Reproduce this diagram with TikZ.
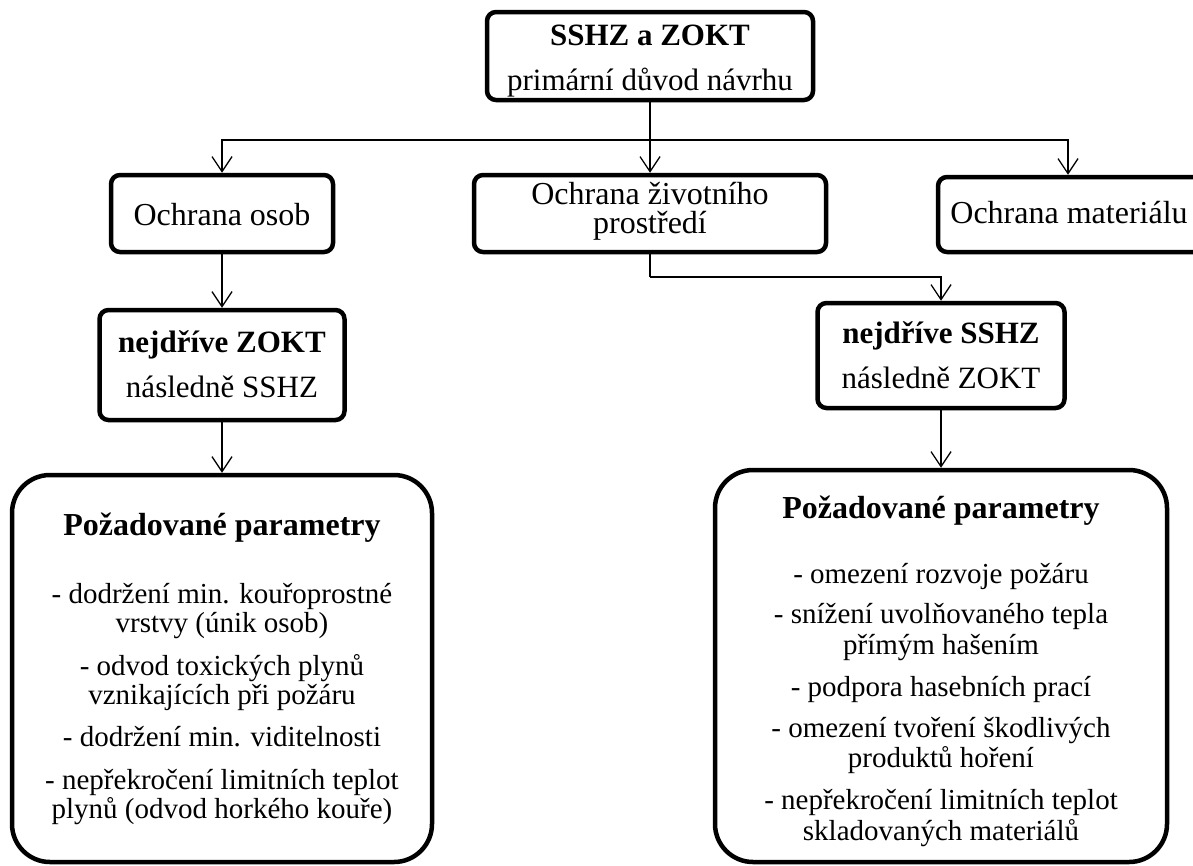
\documentclass[tikz,border=0pt]{standalone}
\usepackage{fontspec}
\setmainfont{Liberation Serif}
\usetikzlibrary{arrows.meta}
\begin{document}
\begin{tikzpicture}[x=1pt,y=-1pt,
  box/.style={draw, line width=4.5pt, rounded corners=9pt, inner sep=0pt},
  bigbox/.style={draw, line width=4.5pt, rounded corners=38pt, inner sep=0pt},
  lbl/.style={anchor=base, align=center, inner sep=0pt, font=\fontsize{31}{45}\selectfont},
  lbltwo/.style={anchor=base, align=center, inner sep=0pt, font=\fontsize{32}{29}\selectfont},
  head/.style={anchor=base, inner sep=0pt, font=\fontsize{32}{36}\selectfont\bfseries},
  litems/.style={anchor=base, align=center, inner sep=0pt, font=\fontsize{29}{29}\selectfont},
  ritems/.style={anchor=base, align=center, inner sep=0pt, font=\fontsize{29}{30.5}\selectfont},
  conn/.style={line width=1.3pt},
  arr/.style={conn, -{Straight Barb[length=15pt,width=20pt,line width=1.3pt]}}]
\clip (0,0) rectangle (1193,865);
\fill[white] (0,0) rectangle (1193,865);

% boxes
\node[box, minimum width=326pt, minimum height=88pt] (t) at (650,56) {};
\node[box, minimum width=222pt, minimum height=77pt] (osob) at (222,213.5) {};
\node[box, minimum width=352pt, minimum height=77pt] (zp) at (650,213.5) {};
\node[box, minimum width=280pt, minimum height=75pt] (mat) at (1078,214.5) {};
\node[box, minimum width=245pt, minimum height=110pt] (lmid) at (222,365) {};
\node[box, minimum width=247pt, minimum height=105pt] (rmid) at (941,355.5) {};
\node[bigbox, minimum width=420pt, minimum height=387pt] (lbig) at (222,668.5) {};
\node[bigbox, minimum width=452pt, minimum height=392pt] (rbig) at (941,666) {};

% texts (base anchor = baseline of last line)
\node[lbl] (tt) at (650,90) {\textbf{SSHZ a ZOKT}\\primární důvod návrhu};
\node[lbltwo] (osobt) at (222,225) {Ochrana osob};
\node[lbltwo] (zpt) at (650,233) {Ochrana životního\\prostředí};
\node[lbltwo] (matt) at (1069,223) {Ochrana materiálu};
\node[lbl] (lmidt) at (222,397) {\textbf{nejdříve ZOKT}\\následně SSHZ};
\node[lbl] (rmidt) at (941,388) {\textbf{nejdříve SSHZ}\\následně ZOKT};
\node[head] (lhead) at (222,535) {Požadované parametry};
\node[head] (rhead) at (941,518) {Požadované parametry};
\node[litems] (lit) at (222,818) {- dodržení min. kouřoprostné\\vrstvy (únik osob)\\[14pt]- odvod toxických plynů\\vznikajících při požáru\\[13pt]- dodržení min. viditelnosti\\[14pt]- nepřekročení limitních teplot\\plynů (odvod horkého kouře)};
\node[ritems] (rit) at (941,840) {- omezení rozvoje požáru\\[9.5pt]- snížení uvolňovaného tepla\\přímým hašením\\[11.5pt]- podpora hasebních prací\\[10.5pt]- omezení tvoření škodlivých\\produktů hoření\\[11.5pt]- nepřekročení limitních teplot\\skladovaných materiálů};

% connectors
\coordinate (hb) at (650,140);
\coordinate (hb2) at (650,277);
\draw[conn] (t.south) -- (hb);
\draw[arr] (hb) -- (zp.north);
\draw[arr] (hb) -| (osob.north);
\draw[arr] (hb) -| ([xshift=-10pt]mat.north);
\draw[arr] (osob.south) -- (lmid.north);
\draw[arr] (lmid.south) -- (lbig.north);
\draw[conn] (zp.south) -- (hb2);
\draw[arr] (hb2) -| (rmid.north);
\draw[arr] (rmid.south) -- (rbig.north);
\end{tikzpicture}
\end{document}
